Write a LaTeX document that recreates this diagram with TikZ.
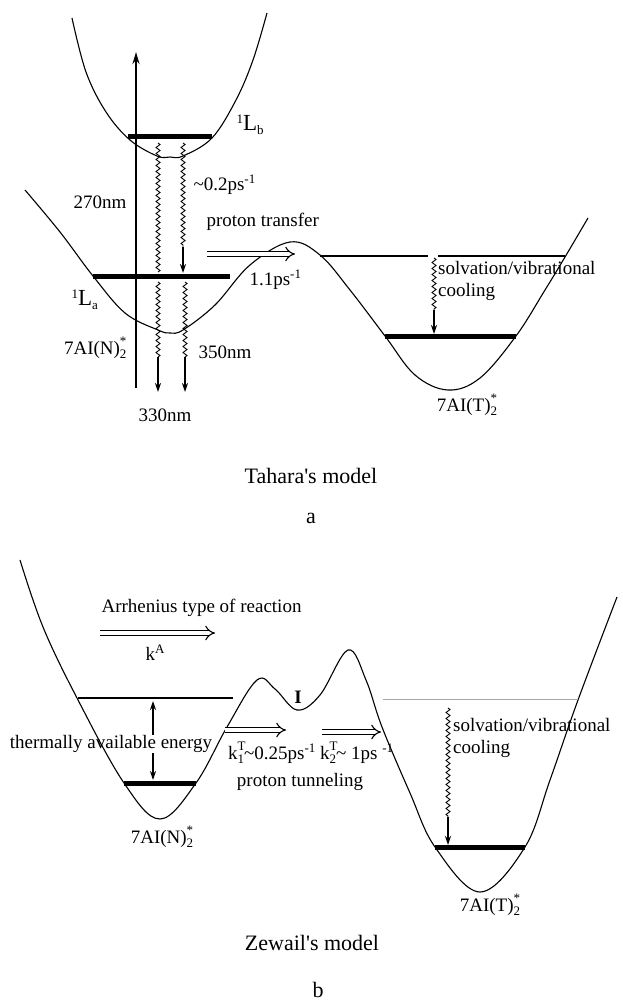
\documentclass[tikz,border=0pt]{standalone}
\usepackage{fontspec}
\setmainfont{Liberation Serif}
\usetikzlibrary{arrows.meta, decorations.pathmorphing}
\newcommand{\smalltxt}[1]{{\fontsize{13}{13}\selectfont #1}}
\newcommand{\upx}[1]{\raisebox{7pt}{\smalltxt{#1}}}
\newcommand{\dnx}[1]{\raisebox{-4pt}{\smalltxt{#1}}}
\newcommand{\sbsp}[2]{\rlap{\raisebox{9pt}{\smalltxt{#2}}}\dnx{#1}}

\begin{document}
\begin{tikzpicture}[x=1pt, y=-1pt, font=\fontsize{19}{22}\selectfont,
    pes/.style={line width=1.1pt},
    bar/.style={line width=5pt},
    level/.style={line width=1.5pt},
    wave/.style={decorate, decoration={zigzag, amplitude=2pt, segment length=6pt}, line width=0.9pt},
    drop/.style={line width=2pt, -{Stealth[length=9pt, width=6pt]}},
    hollow/.style={double, double distance=4pt, line width=1.1pt, -{Implies}},
    caption/.style={font=\fontsize{22}{24}\selectfont},
    big/.style={font=\fontsize{23}{25}\selectfont}]
  \useasboundingbox (0,0) rectangle (623,1003);

  % Tahara's model
  \draw[pes] plot[smooth, tension=0.6] coordinates {(72,18) (86,72) (106,112) (130,140) (157,156) (170,157) (183,156) (212,138) (236,100) (253,60) (267,13)};
  \draw[pes] plot[smooth, tension=0.6] coordinates {(25,190) (60,232) (93,276) (125,313) (158,330) (170,333) (183,330) (215,305) (250,265) (290,242) (320,255) (350,290) (385,336) (415,375) (448,390) (480,378) (516,336) (545,290) (565,257) (588,218)};
  \draw[bar] (128,137) -- (212,137);
  \draw[bar] (93,276) -- (230,276);
  \draw[bar] (385,336) -- (516,336);
  \draw[level] (320,256) -- (428,256) (438,256) -- (565,256);
  \draw[line width=2.5pt, -{Stealth[length=12pt, width=7pt]}] (136,388) -- (136,52);
  \coordinate (w1) at (158,143);
  \coordinate (w2) at (183,143);
  \draw[wave] (w1) -- (158,272);
  \draw[wave] (w2) -- (183,247);
  \draw[drop] (183,247) -- (183,273);
  \draw[wave] (158,282) -- (158,357);
  \draw[wave] (185,282) -- (185,357);
  \draw[drop] (158,357) -- (158,392);
  \draw[drop] (185,357) -- (185,392);
  \draw[wave] (434,258) -- (434,310);
  \draw[drop] (434,310) -- (434,334);
  \draw[hollow] (207,254) -- (295,254);

  \node[anchor=west, big] (lb) at (233,125) {\upx{1}L\dnx{b}};
  \node (nm270) at (100,202) {270nm};
  \node[anchor=west] (kic) at (190,185) {\textasciitilde0.2ps\upx{-1}};
  \node[anchor=west] (pt) at (203,222) {proton transfer};
  \node[anchor=west] (kpt) at (246,280) {1.1ps\upx{-1}};
  \node[anchor=west, big] (la) at (68,300) {\upx{1}L\dnx{a}};
  \node[anchor=east] (na) at (130,348) {7AI(N)\sbsp{2}{*}};
  \node[anchor=west] (nm350) at (195,352) {350nm};
  \node (nm330) at (165,415) {330nm};
  \node (ta) at (467,405) {7AI(T)\sbsp{2}{*}};
  \node[anchor=north west, align=left, inner sep=1pt] (sva) at (437,260) {solvation/vibrational\\cooling};
  \node[caption] (capa) at (311,476) {Tahara\textquotesingle s model};
  \node[caption] (la_a) at (311,518) {a};

  % Zewail's model
  \draw[pes] plot[smooth, tension=0.6] coordinates {(20,560) (43,627) (77,698) (124,783) (160,819) (196,783) (227,727) (257,680) (275,689) (297,710) (320,695) (348,650) (366,680) (382,727) (410,793) (435,847) (480,892) (525,847) (550,780) (578,700) (617,597)};
  \draw[level] (78,698) -- (233,698);
  \draw[level, gray!70, line width=1pt] (383,699) -- (578,699);
  \draw[bar] (124,783) -- (196,783);
  \draw[bar] (435,847) -- (525,847);
  \draw[hollow] (100,633) -- (215,633);
  \draw[hollow] (225,730) -- (286,730);
  \draw[hollow] (322,732) -- (381,732);
  \draw[wave] (448,708) -- (448,817);
  \draw[drop] (448,817) -- (448,845);

  \node[anchor=west] (arr) at (98,608) {Arrhenius type of reaction};
  \node (ka) at (155,653) {k\upx{A}};
  \node (tae) at (111,744) {thermally available energy};
  \draw[drop] (153,735) -- (153,701);
  \draw[drop] (153,753) -- (153,780);
  \node (im) at (298,697) {\textbf{I}};
  \node[anchor=west, inner sep=1pt] (kt) at (227,753) {k\sbsp{1}{T}\textasciitilde0.25ps\upx{-1} k\sbsp{2}{T}\textasciitilde{} 1ps \upx{-1}};
  \node (tun) at (300,782) {proton tunneling};
  \node[anchor=north west, align=left, inner sep=1pt] (svb) at (452,717) {solvation/vibrational\\cooling};
  \node (nb) at (162,837) {7AI(N)\sbsp{2}{*}};
  \node (tb) at (490,905) {7AI(T)\sbsp{2}{*}};
  \node[caption] (capb) at (312,943) {Zewail\textquotesingle s model};
  \node[caption] (lb_b) at (318,990) {b};
\end{tikzpicture}
\end{document}
